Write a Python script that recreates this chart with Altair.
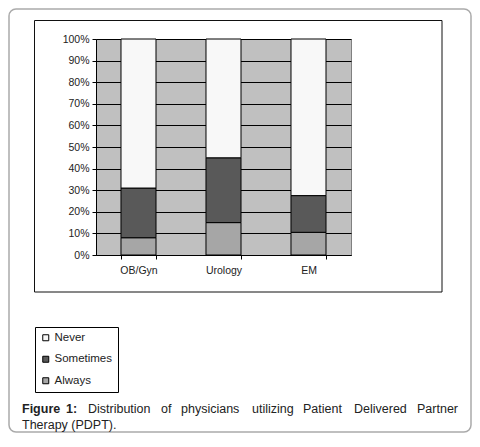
import altair as alt
import pandas as pd

# ---- data ----
categories = ["OB/Gyn", "Urology", "EM"]
responses = ["Never", "Sometimes", "Always"]
always = [8, 15, 10.5]
sometimes = [23, 30, 17]
never = [69, 55, 72.5]
colors = ["#f8f8f8", "#595959", "#a6a6a6"]
y_ticks = [0, 10, 20, 30, 40, 50, 60, 70, 80, 90, 100]

caption_words = ["Figure", "1:", "Distribution", "of", "physicians", "utilizing",
                 "Patient", "Delivered", "Partner"]
caption_bold = [True, True, False, False, False, False, False, False, False]
caption_x = [22, 66, 88, 161, 181, 252, 303, 354, 417]
caption_line2 = "Therapy (PDPT)."

FONT = "Liberation Sans"
OX, OY = 96, 39  # page position of the plot origin

rows = []
for i, c in enumerate(categories):
    for r, vals, o in [("Always", always, 0), ("Sometimes", sometimes, 1), ("Never", never, 2)]:
        rows.append({"category": c, "response": r, "value": vals[i] / 100, "order": o})
df = pd.DataFrame(rows)

one = pd.DataFrame({"k": [0]})

def box(x1, y1, x2, y2, **kw):
    return alt.Chart(one).mark_rect(fill="white", fillOpacity=0, **kw).encode(
        x=alt.value(x1 - OX), x2=alt.value(x2 - OX),
        y=alt.value(y1 - OY), y2=alt.value(y2 - OY))

outer = box(9, 9, 471, 432, stroke="#aaaaaa", strokeWidth=1.5, cornerRadius=7)
inner = box(34.5, 20.5, 442, 292, stroke="#111111", strokeWidth=1)

bars = alt.Chart(df).mark_bar(stroke="black", strokeWidth=1).encode(
    x=alt.X("category:N", sort=categories,
            scale=alt.Scale(paddingInner=0.588, paddingOuter=0.294),
            axis=alt.Axis(title=None, labelAngle=0, tickBand="extent", tickSize=4,
                          tickColor="black", domainColor="black", labelFontSize=10.5,
                          labelFont=FONT, labelColor="#222222", labelPadding=6, grid=False)),
    y=alt.Y("value:Q", stack="zero", scale=alt.Scale(domain=[0, 1], nice=False),
            axis=alt.Axis(title=None, values=[v / 100 for v in y_ticks], format=".0%",
                          grid=True, gridColor="black", gridWidth=1, gridOpacity=1,
                          tickSize=4, tickColor="black", domainColor="black",
                          labelFontSize=10.5, labelFont=FONT, labelColor="#222222",
                          labelPadding=3)),
    color=alt.Color("response:N", scale=alt.Scale(domain=responses, range=colors),
                    legend=alt.Legend(title=None, orient="none", legendX=35 - OX, legendY=327 - OY,
                                      direction="vertical", symbolType="square", symbolSize=36,
                                      symbolStrokeColor="black", symbolStrokeWidth=1,
                                      labelFontSize=11.5, labelFont=FONT, labelColor="#222222",
                                      labelOffset=3, rowPadding=8.5, padding=5,
                                      strokeColor="black", fillColor="white")),
    order=alt.Order("order:Q"),
)

texts = []
for w, b, x in zip(caption_words, caption_bold, caption_x):
    texts.append(alt.Chart(one).mark_text(text=w, align="left", baseline="alphabetic",
                                          font=FONT, fontSize=12.5,
                                          fontWeight="bold" if b else "normal",
                                          color="#222222").encode(
        x=alt.value(x - OX), y=alt.value(413 - OY)))
texts.append(alt.Chart(one).mark_text(text=caption_line2, align="left", baseline="alphabetic",
                                      font=FONT, fontSize=12.5, color="#222222").encode(
    x=alt.value(22 - OX), y=alt.value(429 - OY)))

chart = alt.layer(outer, inner, bars, *texts).properties(
    width=255, height=216,
    autosize=alt.AutoSizeParams(type="none"),
    padding={"left": 88, "top": 31, "right": 121, "bottom": 178},
    background="white",
).configure_view(fill="#c0c0c0", stroke="#808080", strokeWidth=1)

chart.save("out.html", embed_options={"renderer": "svg", "actions": False})
